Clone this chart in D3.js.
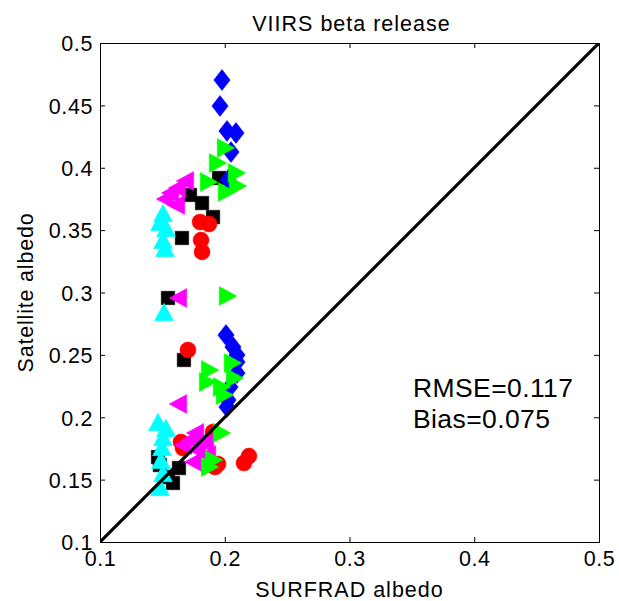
<!DOCTYPE html>
<html><head><meta charset="utf-8">
<script src="https://cdn.jsdelivr.net/npm/d3@7"></script>
<style>body{margin:0;background:#fff}svg{display:block}text{font-family:"Liberation Sans",Arial,sans-serif;fill:#000}</style>
</head><body><svg id="c" width="619" height="601"></svg>
<script>
const title = "VIIRS beta release";
const xLabel = "SURFRAD albedo";
const yLabel = "Satellite albedo";
const xTicks = [0.1, 0.2, 0.3, 0.4, 0.5];
const yTicks = [0.1, 0.15, 0.2, 0.25, 0.3, 0.35, 0.4, 0.45, 0.5];
const statsText = ["RMSE=0.117", "Bias=0.075"];

const blackSquares = [[0.1954,0.3918],[0.1721,0.3782],[0.1818,0.3717],[0.1906,0.3605],[0.1657,0.3437],[0.1545,0.2956],[0.1673,0.2459],
  [0.1465,0.1681],[0.148,0.1617],[0.1633,0.1593],[0.1585,0.1473],[0.1545,0.152]];
const redCircles = [[0.1802,0.3565],[0.1874,0.3549],[0.181,0.342],[0.1818,0.3325],[0.1705,0.2539],
  [0.1906,0.1882],[0.1649,0.1802],[0.1665,0.1753],[0.1922,0.1601],[0.1946,0.1625],[0.2154,0.1633],[0.2194,0.1689]];
const blueDiamonds = [[0.1978,0.4703],[0.1962,0.4495],[0.2018,0.4295],[0.209,0.4279],[0.205,0.4126],[0.2026,0.3902],
  [0.201,0.2659],[0.2066,0.2563],[0.2098,0.2499],[0.2098,0.2443],[0.2098,0.2355],[0.2042,0.2242],[0.2026,0.2138],[0.2018,0.2082]];
const magentaLeft = [[0.1681,0.3894],[0.1617,0.3838],[0.1561,0.3798],[0.1521,0.3749],[0.1609,0.3701],[0.1625,0.2956],[0.1625,0.2106],
  [0.1762,0.1874],[0.1721,0.1818],[0.1842,0.1794],[0.1665,0.1778],[0.1778,0.1737],[0.1858,0.1697],[0.1746,0.1641]];
const cyanUp = [[0.1505,0.3637],[0.1481,0.3565],[0.1529,0.3517],[0.1505,0.3421],[0.1521,0.3357],[0.1513,0.2844],
  [0.1465,0.1962],[0.1529,0.1914],[0.1505,0.1842],[0.1497,0.1762],[0.1489,0.1657],[0.1505,0.1553],[0.1481,0.1441]];
const greenRight = [[0.201,0.4158],[0.1946,0.4038],[0.1874,0.3886],[0.2098,0.3958],[0.2106,0.3854],[0.2018,0.3806],[0.2026,0.2972],
  [0.1882,0.2379],[0.1866,0.2283],[0.1978,0.2242],[0.2066,0.2435],[0.2002,0.2178],[0.2082,0.2315],[0.1978,0.1874],[0.1882,0.1601],[0.1914,0.1657]];

const svg = d3.select("#c");
const L = 100, R = 599, T = 43, B = 542;
const x = d3.scaleLinear().domain([0.1, 0.5]).range([L, R]);
const y = d3.scaleLinear().domain([0.1, 0.5]).range([B, T]);

const sq = {draw(c, s){const h = s/2; c.rect(-h,-h,s,s);}};
const circ = {draw(c, s){const r = s/2; c.moveTo(r,0); c.arc(0,0,r,0,2*Math.PI);}};
const diam = {draw(c, s){const w = s*0.39, h = s*0.5; c.moveTo(0,-h); c.lineTo(w,0); c.lineTo(0,h); c.lineTo(-w,0); c.closePath();}};
const triUp = {draw(c, s){const w = s*0.5, h = s*0.46; c.moveTo(0,-h); c.lineTo(w,h); c.lineTo(-w,h); c.closePath();}};
const triRight = {draw(c, s){const w = s*0.5, h = s*0.46; c.moveTo(h,0); c.lineTo(-h,w); c.lineTo(-h,-w); c.closePath();}};
const triLeft = {draw(c, s){const w = s*0.5, h = s*0.46; c.moveTo(-h,0); c.lineTo(h,w); c.lineTo(h,-w); c.closePath();}};

const series = [
  {data: blackSquares, type: sq, size: 13.5, color: "#000000"},
  {data: redCircles, type: circ, size: 16, color: "#ff0000"},
  {data: blueDiamonds, type: diam, size: 21, color: "#0000ff"},
  {data: magentaLeft, type: triLeft, size: 19, color: "#ff00ff"},
  {data: cyanUp, type: triUp, size: 19, color: "#00ffff"},
  {data: greenRight, type: triRight, size: 19, color: "#00ff00"}
];

svg.append("defs").append("clipPath").attr("id","pc").append("rect")
  .attr("x", L).attr("y", T).attr("width", R-L).attr("height", B-T);

const gm = svg.append("g");
series.forEach(s => {
  gm.selectAll(null).data(s.data).enter().append("path")
    .attr("transform", d => `translate(${x(d[0])},${y(d[1])})`)
    .attr("d", d3.symbol().type(s.type).size(s.size))
    .attr("fill", s.color).attr("stroke", s.color).attr("stroke-width", 0.5);
});

svg.append("line").attr("clip-path","url(#pc)")
  .attr("x1", x(0.1)).attr("y1", y(0.1)).attr("x2", x(0.5)).attr("y2", y(0.5))
  .attr("stroke", "#000").attr("stroke-width", 3.2);

const tl = 5;
svg.append("g").attr("transform", `translate(0,${B})`)
  .call(d3.axisBottom(x).tickValues(xTicks).tickSize(-tl).tickPadding(9).tickFormat(d3.format("")));
const ay = svg.append("g").attr("transform", `translate(${L},0)`)
  .call(d3.axisLeft(y).tickValues(yTicks).tickSize(-tl).tickPadding(7).tickFormat(d3.format("")));
svg.append("g").attr("transform", `translate(0,${T})`)
  .call(d3.axisTop(x).tickValues(xTicks).tickSize(-tl).tickFormat(""));
svg.append("g").attr("transform", `translate(${R},0)`)
  .call(d3.axisRight(y).tickValues(yTicks).tickSize(-tl).tickFormat(""));
svg.selectAll(".domain").attr("stroke", "#000").attr("stroke-width", 1);
svg.selectAll(".tick line").attr("stroke", "#000");
svg.selectAll(".tick text").style("font-size", "21.5px").style("letter-spacing", "0.6px")
  .style("font-family", '"Liberation Sans",Arial,sans-serif');
ay.selectAll(".tick text").attr("dy", "0.36em");

svg.append("text").attr("x", (L+R)/2 + 2).attr("y", 31).attr("text-anchor","middle")
  .style("font-size","21.5px").style("letter-spacing","1px").text(title);
svg.append("text").attr("x", (L+R)/2).attr("y", 597).attr("text-anchor","middle")
  .style("font-size","21.5px").style("letter-spacing","1px").text(xLabel);
svg.append("text").attr("transform", `translate(33,${(T+B)/2}) rotate(-90)`).attr("text-anchor","middle")
  .style("font-size","21.5px").style("letter-spacing","0.8px").text(yLabel);

svg.selectAll(null).data(statsText).enter().append("text")
  .attr("x", 413).attr("y", (d,i) => 397 + i*31)
  .style("font-size","26.5px").style("letter-spacing","0.4px").text(d => d);
</script></body></html>
